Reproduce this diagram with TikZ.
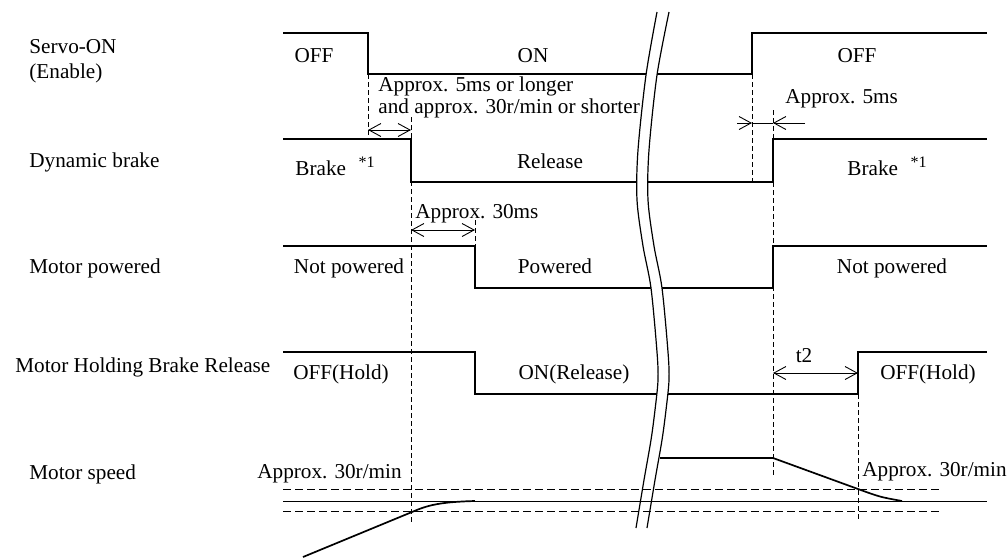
\documentclass[tikz,border=0pt]{standalone}
\usepackage{fontspec}
\setmainfont{Liberation Serif}
\usetikzlibrary{arrows.meta,positioning}

\begin{document}
\begin{tikzpicture}[x=0.5pt,y=-0.5pt,
  font=\fontsize{10.6}{12.5}\selectfont,
  sig/.style={line width=0.85pt},
  guide/.style={line width=0.45pt, dash pattern=on 2.5pt off 1.5pt},
  lvl/.style={line width=0.5pt, dash pattern=on 4pt off 2pt},
  barb/.tip={Straight Barb[length=6pt,width=6.5pt]},
  dim/.style={line width=0.45pt, barb-barb},
  txt/.style={inner sep=0pt, anchor=base},
  lbl/.style={inner sep=0pt, anchor=base west, align=left}]

\useasboundingbox (0,0) rectangle (1007,558);

% signal names (base = last line)
\node[lbl] (servoLbl) at (29,78) {Servo-ON\\(Enable)};
\node[lbl] (dynLbl) at (29,167) {Dynamic brake};
\node[lbl] (powLbl) at (29,273) {Motor powered};
\node[lbl] (holdLbl) at (15,372) {Motor Holding Brake Release};
\node[lbl] (spdLbl) at (29,479) {Motor speed};

% waveforms
\draw[sig] (283,33) -- (368,33) -- (368,74) -- (752,74) -- (752,33) -- (987,33);
\draw[sig] (283,139) -- (411,139) -- (411,182) -- (773,182) -- (773,139) -- (987,139);
\draw[sig] (283,246) -- (475,246) -- (475,288) -- (773,288) -- (773,246) -- (987,246);
\draw[sig] (283,352) -- (475,352) -- (475,394) -- (858,394) -- (858,352) -- (987,352);

% state texts
\node[txt] (offA) at (314,62) {OFF};
\node[txt] (onA) at (533,62) {ON};
\node[txt] (offB) at (857,62) {OFF};
\node[lbl] (brkA) at (295,175) {Brake\hspace{0.6em}\raisebox{0.75ex}{\footnotesize*1}};
\node[txt] (relA) at (550,168) {Release};
\node[lbl] (brkB) at (847,175) {Brake\hspace{0.6em}\raisebox{0.75ex}{\footnotesize*1}};
\node[txt] (npA) at (349,273) {Not powered};
\node[txt] (pwA) at (555,273) {Powered};
\node[txt] (npB) at (892,273) {Not powered};
\node[txt] (hldA) at (341,379) {OFF(Hold)};
\node[txt] (relB) at (574,379) {ON(Release)};
\node[txt] (hldB) at (928,379) {OFF(Hold)};

% timing guides
\draw[guide] (368,74) -- (368,139);
\draw[guide] (411,117) -- (411,522);
\draw[guide] (475,220) -- (475,246);
\draw[guide] (752,74) -- (752,182);
\draw[guide] (773,110) -- (773,478);
\draw[guide] (858,394) -- (858,522);

% delays
\coordinate (d1a) at (368,130);
\coordinate (d1b) at (411,130);
\draw[dim] (d1a) -- (d1b);
\node[lbl, font=\fontsize{10.6}{8}\selectfont] (d1Txt) at (378,113)
  {Approx. 5ms or longer\\and approx. 30r/min or shorter};

\coordinate (d2a) at (411,230);
\coordinate (d2b) at (475,230);
\draw[dim] (d2a) -- (d2b);
\node[lbl] (d2Txt) at (415,218) {Approx. 30ms};

\coordinate (d3a) at (752,123);
\coordinate (d3b) at (773,123);
\draw[line width=0.45pt, -barb] ([xshift=-7.5pt]d3a) -- (d3a);
\draw[line width=0.45pt] (d3a) -- (d3b);
\draw[line width=0.45pt, -barb] ([xshift=16pt]d3b) -- (d3b);
\node[lbl] (d3Txt) at (785,103) {Approx. 5ms};

\coordinate (d4a) at (773,373);
\coordinate (d4b) at (858,373);
\draw[dim] (d4a) -- (d4b);
\node[txt] (d4Txt) at (804,362) {t2};

% time break
\fill[white] plot[smooth] coordinates {(657,12) (646,75) (638,150) (637,200) (643,246) (651,288) (657,352) (658,380) (655,410) (651,440) (644,480) (636,528)}
  -- plot[smooth] coordinates {(647,528) (655,480) (662,440) (666,410) (669,380) (668,352) (662,288) (654,246) (648,200) (649,150) (657,75) (669,12)} -- cycle;
\draw[line width=0.6pt] plot[smooth] coordinates {(657,12) (646,75) (638,150) (637,200) (643,246) (651,288) (657,352) (658,380) (655,410) (651,440) (644,480) (636,528)};
\draw[line width=0.6pt] plot[smooth] coordinates {(669,12) (657,75) (649,150) (648,200) (654,246) (662,288) (668,352) (669,380) (666,410) (662,440) (655,480) (647,528)};

% motor speed
\draw[lvl] (283,489) -- (942,489);
\draw[lvl] (283,511) -- (942,511);
\draw[line width=0.5pt] (283,501) -- (987,501);
\draw[sig] (303,557) -- (412,512) .. controls (428,505) and (440,502) .. (475,501);
\draw[sig] (660,458) -- (773,458) -- (858,489) .. controls (880,497) .. (902,501);
\node[lbl] (lvlA) at (257,478) {Approx. 30r/min};
\node[lbl] (lvlB) at (862,476) {Approx. 30r/min};

\end{tikzpicture}
\end{document}
